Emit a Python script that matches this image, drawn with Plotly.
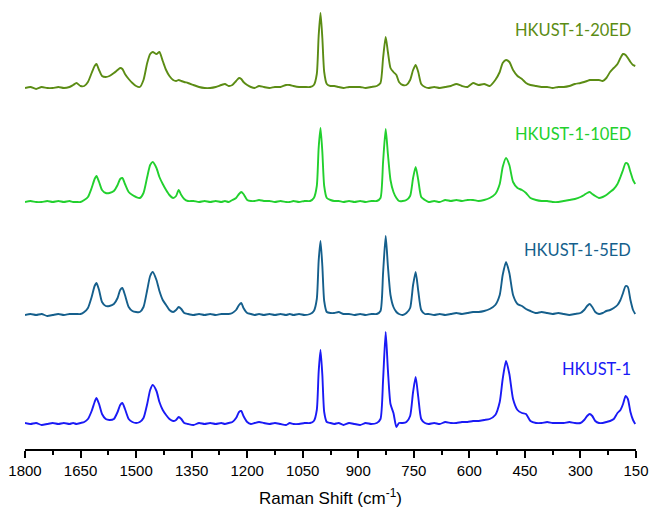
import plotly.graph_objects as go

wavenumber = [
    1800, 1785, 1770, 1755, 1740, 1725, 1710, 1695, 1680, 1670,
    1661, 1650, 1640, 1630, 1620, 1612, 1607, 1600, 1592, 1582,
    1572, 1560, 1550, 1543, 1537, 1530, 1520, 1510, 1500, 1490,
    1480, 1470, 1462, 1455, 1445, 1437, 1428, 1419, 1410, 1400,
    1392, 1385, 1378, 1370, 1360, 1345, 1330, 1315, 1300, 1285,
    1270, 1260, 1250, 1240, 1230, 1222, 1216, 1210, 1200, 1190,
    1180, 1168, 1155, 1140, 1125, 1110, 1095, 1085, 1075, 1060,
    1045, 1030, 1020, 1012, 1007, 1002, 997, 992, 985, 975,
    965, 953, 940, 925, 910, 895, 880, 865, 850, 840,
    833, 826, 820, 813, 805, 797, 790, 780, 770, 760,
    752, 745, 738, 730, 720, 710, 695, 680, 665, 650,
    635, 620, 605, 590, 575, 560, 545, 530, 518, 510,
    501, 492, 482, 470, 458, 447, 435, 420, 405, 390,
    375, 360, 345, 330, 315, 300, 290, 282, 275, 268,
    260, 250, 240, 230, 220, 210, 200, 192, 185, 178,
    172, 165, 158, 152,
]

hkust1 = [
    1, 0, 1, -1, 0, 1, 0, 1, 0, 1,
    0, 1, 2, 5, 13, 22, 26, 20, 10, 5,
    4, 5, 12, 19, 21, 15, 5, 2, 1, 2,
    6, 20, 34, 39, 33, 22, 14, 9, 5, 3,
    4, 7, 5, 1, 0, -1, 1, 0, 1, 0,
    1, 0, 1, 2, 6, 12, 13, 8, 2, 0,
    1, 2, 1, 0, 1, 0, -1, 1, 0, 0,
    1, 1, 3, 14, 52, 74, 49, 12, 2, 1,
    0, 1, -1, 1, 0, -1, 1, 0, 1, 5,
    44, 92, 54, 20, 11, -3, 1, 1, 2, 8,
    32, 47, 27, 5, 1, 0, 1, 0, 2, 1,
    1, 2, 2, 3, 3, 4, 5, 9, 22, 45,
    63, 50, 25, 14, 11, 10, 3, 1, 1, 2,
    1, 1, 1, 2, 1, 1, 4, 8, 10, 8,
    3, 1, 1, 2, 3, 5, 11, 14, 20, 28,
    25, 12, 4, 0,
]

hkust1_5ed = [
    0, 1, 0, 1, -1, 0, 1, 0, 1, 1,
    1, 1, 3, 7, 18, 29, 32, 25, 13, 9,
    9, 11, 17, 25, 27, 20, 8, 4, 3, 3,
    8, 25, 39, 43, 35, 24, 15, 10, 5, 3,
    5, 8, 6, 2, 1, 0, 1, 0, 1, 0,
    1, 1, 1, 2, 5, 10, 12, 7, 2, 1,
    0, 1, 0, 1, 0, 1, 0, 1, 0, 1,
    0, 1, 4, 16, 54, 74, 49, 14, 3, 2,
    2, 3, 1, 1, 0, 1, 0, 1, 1, 4,
    42, 79, 49, 20, 8, 3, 1, 0, 2, 7,
    30, 43, 24, 5, 1, 1, 0, 1, 0, 1,
    2, 1, 2, 3, 3, 4, 6, 10, 20, 40,
    53, 42, 20, 11, 9, 6, 4, 2, 3, 2,
    1, 2, 1, 0, 1, 2, 5, 9, 11, 8,
    3, 1, 2, 4, 5, 7, 10, 15, 22, 29,
    28, 15, 5, 1,
]

hkust1_10ed = [
    0, 1, 0, 0, 1, 0, 1, 0, 1, 0,
    0, 0, 2, 5, 14, 23, 26, 20, 12, 9,
    9, 11, 17, 23, 24, 18, 10, 7, 5, 4,
    9, 25, 37, 40, 34, 25, 18, 12, 7, 4,
    6, 12, 7, 3, 1, 1, 0, 1, 0, 1,
    0, 1, 0, 2, 4, 8, 10, 8, 2, 1,
    1, 2, 1, 1, 0, 1, 0, 0, 1, 0,
    1, 1, 4, 16, 54, 74, 50, 16, 4, 2,
    1, 1, 0, 1, 0, 1, 0, 1, 1, 4,
    40, 73, 48, 22, 10, 4, 1, 1, 2, 6,
    24, 35, 22, 5, 2, 0, 1, 0, 2, 1,
    2, 1, 2, 2, 1, 2, 4, 8, 18, 35,
    44, 37, 20, 14, 12, 9, 4, 2, 1, 1,
    0, 0, 1, 2, 3, 5, 7, 9, 10, 8,
    6, 4, 5, 7, 10, 13, 18, 25, 32, 39,
    38, 30, 22, 18,
]

hkust1_20ed = [
    0, 1, -1, 1, 0, 0, 1, 0, 1, 3,
    5, 2, 2, 6, 15, 22, 24, 18, 12, 11,
    12, 15, 18, 20, 19, 14, 9, 5, 2, 1,
    8, 25, 34, 36, 34, 36, 27, 18, 12, 8,
    7, 8, 7, 6, 5, 3, 1, 0, 0, 1,
    3, 4, 2, 3, 7, 10, 9, 6, 3, 1,
    0, 2, 1, 0, 1, 1, 3, 3, 2, 1,
    1, 1, 3, 14, 52, 75, 50, 16, 4, 2,
    2, 1, 0, 1, 1, 1, 0, 1, 2, 5,
    30, 51, 36, 20, 16, 13, 6, 3, 3, 8,
    18, 23, 16, 4, 1, 0, 1, 0, 1, 2,
    4, 2, 1, 5, 3, 4, 2, 8, 16, 25,
    28, 26, 18, 12, 9, 5, 3, 2, 1, 1,
    0, 1, 1, 2, 4, 5, 6, 7, 8, 8,
    8, 8, 7, 10, 16, 20, 24, 30, 34, 33,
    30, 26, 23, 22,
]

names = ["HKUST-1", "HKUST-1-5ED", "HKUST-1-10ED", "HKUST-1-20ED"]
series = [hkust1, hkust1_5ed, hkust1_10ed, hkust1_20ed]
offsets = [0, 109, 222, 336]
colors = ["#1a1af5", "#155f8c", "#22d02e", "#5b8c14"]
label_y = [0.180, 0.448, 0.709, 0.944]

tick_vals = [1800, 1650, 1500, 1350, 1200, 1050, 900, 750, 600, 450, 300, 150]
tick_text = [str(v) for v in tick_vals]

fig = go.Figure()
for name, ys, off, col in zip(names, series, offsets, colors):
    fig.add_trace(go.Scatter(
        x=wavenumber, y=[v + off for v in ys], mode="lines",
        line=dict(color=col, width=1.9, shape="spline", smoothing=0.6),
        name=name, showlegend=False,
    ))

for name, col, ly in zip(names, colors, label_y):
    fig.add_annotation(
        x=0.995, y=ly, xref="paper", yref="paper", text=name, showarrow=False,
        xanchor="right", yanchor="middle",
        font=dict(family="Lato, Open Sans, sans-serif", size=16.5, color=col),
    )

fig.update_layout(
    width=654, height=514,
    margin=dict(l=25, r=15, t=5, b=65),
    paper_bgcolor="white", plot_bgcolor="white",
    xaxis=dict(
        range=[1800, 150], tickvals=tick_vals, ticktext=tick_text,
        ticks="outside", ticklen=7, tickwidth=1.5, tickcolor="black",
        showline=True, linecolor="black", linewidth=1.5,
        showgrid=False, zeroline=False,
        tickfont=dict(family="Liberation Sans, Arial, sans-serif", size=15, color="black"),
        minor=dict(ticks="outside", ticklen=4, tickwidth=1.5, tickcolor="black", dtick=75, tick0=150, showgrid=False),
        title=dict(text="Raman Shift (cm<sup>-1</sup>)", standoff=14,
                   font=dict(family="Liberation Sans, Arial, sans-serif", size=17, color="black")),
    ),
    yaxis=dict(visible=False, range=[-25, 419]),
)

fig.write_html("out.html")
